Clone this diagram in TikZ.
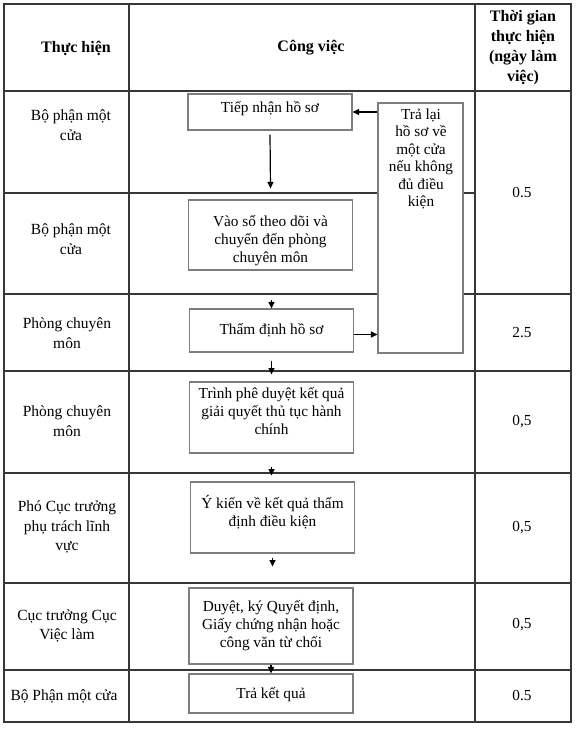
\documentclass[tikz,border=0pt]{standalone}
\usepackage{fontspec}
\setmainfont{Liberation Serif}
\usetikzlibrary{arrows.meta}
\definecolor{gridline}{RGB}{55,55,55}
\definecolor{boxline}{RGB}{125,125,125}

\begin{document}
\begin{tikzpicture}[x=1pt,y=-1pt,
    rule/.style={draw=gridline,line width=1.5pt},
    box/.style={draw=boxline,fill=white,line width=1.1pt,inner sep=0pt,minimum width=164pt},
    txt/.style={align=center,inner sep=0pt,font=\fontsize{15.3}{18}\selectfont},
    who/.style={txt,font=\fontsize{15.5}{19.5}\selectfont},
    head/.style={align=center,inner sep=0pt,font=\fontsize{16}{20}\selectfont\bfseries},
    arr/.style={-{Triangle[length=6.5pt,width=6pt]},line width=1.2pt}]
    \useasboundingbox (0,0) rectangle (576,735);
    % table frame
    \draw[rule] (4,4) rectangle (571,722);
    \foreach \x in {129,475}{\draw[rule] (\x,4)--(\x,722);}
    \foreach \y in {91,294,371,473,583,670}{\draw[rule] (4,\y)--(571,\y);}
    \draw[rule] (4,193)--(475,193);
    % header
    \node[head] (h1) at (76,48) {Thực hiện};
    \node[head] (h2) at (311,48) {Công việc};
    \node[head] (h3) at (523,48) {Thời gian\\thực hiện\\(ngày làm\\việc)};
    % who
    \foreach \n/\x/\y/\t in {r1/71/125/{Bộ phận một\\cửa},r2/71/239/{Bộ phận một\\cửa},r3/67/333/{Phòng chuyên\\môn},r4/67/421/{Phòng chuyên\\môn},r5/67/527/{Phó Cục trưởng\\phụ trách lĩnh\\vực},r6/67/626/{Cục trưởng Cục\\Việc làm},r7/64/696/{Bộ Phận một cửa}}{\node[who] (\n) at (\x,\y) {\t};}
    % days
    \foreach \n/\y/\t in {t1/193/0.5,t2/333/2.5,t3/422/{0,5},t4/528/{0,5},t5/625/{0,5},t6/696/0.5}{\node[txt] (\n) at (522,\y) {\t};}
    % steps
    \node[box,minimum height=36pt] (tiep) at (270,112) {};
    \node[box,minimum height=70pt] (vaoso) at (270.5,235) {};
    \node[box,minimum height=43pt] (tham) at (271.5,330.5) {};
    \node[box,minimum height=71pt] (trinh) at (271.5,417.5) {};
    \node[box,minimum height=71pt] (ykien) at (272.5,517.5) {};
    \node[box,minimum height=76pt] (duyet) at (271,626) {};
    \node[box,minimum height=39pt] (trakq) at (271,693.5) {};
    \node[box,minimum width=85pt,minimum height=250pt] (tralai) at (420.5,228) {};
    \node[txt] (tiepT) at (270,109) {Tiếp nhận hồ sơ};
    \node[txt] (vaosoT) at (270.5,241) {Vào sổ theo dõi và\\chuyển đến phòng\\chuyên môn};
    \node[txt] (thamT) at (271.5,330) {Thẩm định hồ sơ};
    \node[txt] (trinhT) at (271.5,411) {Trình phê duyệt kết quả\\giải quyết thủ tục hành\\chính};
    \node[txt] (ykienT) at (272.5,512) {Ý kiến về kết quả thẩm\\định điều kiện};
    \node[txt] (duyetT) at (271,626) {Duyệt, ký Quyết định,\\Giấy chứng nhận hoặc\\công văn từ chối};
    \node[txt] (trakqT) at (271,695) {Trả kết quả};
    \node[txt,font=\fontsize{15.3}{17.5}\selectfont] (tralaiT) at (421,159) {Trả lại\\hồ sơ về\\một cửa\\nếu không\\đủ điều\\kiện};
    % flow
    \draw[arr] ([yshift=-4pt]tiep.south) -- ([yshift=11pt]vaoso.north);
    \draw[arr] ([yshift=8pt]tham.north) -- (tham.north);
    \draw[arr] ([yshift=-4pt]tham.east) -- ([yshift=-4pt]tham.east -| tralai.west);
    \draw[arr] (tralai.west |- tiep.east) -- (tiep.east);
    \draw[arr] ([yshift=-8pt]tham.south) -- ([yshift=-22pt]tham.south);
    \draw[arr] ([yshift=-13pt]trinh.south) -- ([yshift=-22pt]trinh.south);
    \draw[arr] ([yshift=-4pt]ykien.south) -- ([yshift=-13pt]ykien.south);
    \draw[arr] (duyet.south) -- (trakq.north);
\end{tikzpicture}
\end{document}
